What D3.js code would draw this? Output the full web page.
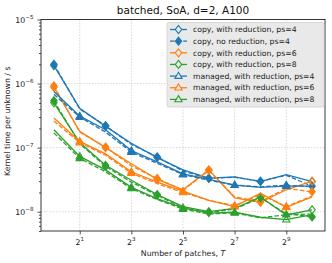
<!DOCTYPE html>
<html>
<head>
<meta charset="utf-8">
<script src="https://cdn.jsdelivr.net/npm/d3@7"></script>
<style>
  body { margin: 0; background: #fff; }
  svg { font-family: "DejaVu Sans", sans-serif; }
</style>
</head>
<body>
<div id="chart"></div>
<script>
// number of patches, T = 2^0 .. 2^10
const patches = [1, 2, 4, 8, 16, 32, 64, 128, 256, 512, 1024];

// kernel time per unknown [s]
const copyRedPs4    = [1.9e-6, 4.1e-7, 2.15e-7, 1.17e-7, 7.0e-8, 4.5e-8, 3.35e-8, 3.5e-8, 2.95e-8, 3.8e-8, 2.95e-8];
const copyNoRedPs4  = [2.0e-6, 4.0e-7, 2.2e-7, 1.12e-7, 7.2e-8, 4.3e-8, 3.3e-8, 3.45e-8, 3.0e-8, 3.7e-8, 2.5e-8];
const copyRedPs6    = [8.8e-7, 1.8e-7, 1.0e-7, 5.6e-8, 3.2e-8, 2.2e-8, 4.5e-8, 1.65e-8, 1.4e-8, 2.2e-8, 3.0e-8];
const copyNoRedPs6  = [9.2e-7, 1.75e-7, 1.02e-7, 5.2e-8, 3.3e-8, 2.15e-8, 4.4e-8, 1.7e-8, 1.45e-8, 2.3e-8, 2.05e-8];
const copyRedPs8    = [5.0e-7, 1.2e-7, 5.3e-8, 3.1e-8, 1.85e-8, 1.2e-8, 1.0e-8, 1.13e-8, 1.7e-8, 8.9e-9, 1.07e-8];
const copyNoRedPs8  = [5.4e-7, 1.15e-7, 5.1e-8, 2.9e-8, 1.8e-8, 1.15e-8, 9.7e-9, 1.1e-8, 1.65e-8, 9.3e-9, 8.3e-9];
const mgdRedPs4     = [7.5e-7, 3.1e-7, 1.9e-7, 9.0e-8, 6.0e-8, 3.9e-8, 3.2e-8, 2.6e-8, 2.4e-8, 2.5e-8, 2.5e-8];
const mgdNoRedPs4   = [6.8e-7, 3.0e-7, 1.75e-7, 8.5e-8, 5.7e-8, 3.8e-8, 3.1e-8, 2.6e-8, 2.45e-8, 2.6e-8, 2.45e-8];
const mgdRedPs6     = [2.9e-7, 1.25e-7, 8.0e-8, 4.2e-8, 2.9e-8, 2.1e-8, 1.5e-8, 1.2e-8, 1.95e-8, 1.17e-8, 1.7e-8];
const mgdNoRedPs6   = [2.6e-7, 1.2e-7, 7.6e-8, 4.0e-8, 2.75e-8, 2.0e-8, 1.5e-8, 1.25e-8, 1.85e-8, 1.2e-8, 1.75e-8];
const mgdRedPs8     = [1.9e-7, 7.3e-8, 4.5e-8, 2.4e-8, 1.6e-8, 1.15e-8, 9.5e-9, 9.8e-9, 8.2e-9, 7.5e-9, 9.0e-9];
const mgdNoRedPs8   = [1.7e-7, 6.8e-8, 4.2e-8, 2.3e-8, 1.55e-8, 1.1e-8, 9.2e-9, 9.6e-9, 8.0e-9, 9.0e-9, 9.2e-9];

const xTickExps = [1, 3, 5, 7, 9];
const yTickExps = [-8, -7, -6, -5];

const blue = "#1f77b4", orange = "#ff7f0e", green = "#2ca02c";

// label null -> not in legend
const series = [
  { label: "copy, with reduction, ps=4", values: copyRedPs4, color: blue, dashed: false, marker: "D", filled: false, start: 0 },
  { label: "copy, no reduction, ps=4", values: copyNoRedPs4, color: blue, dashed: true, marker: "D", filled: true, start: 0 },
  { label: "copy, with reduction, ps=6", values: copyRedPs6, color: orange, dashed: false, marker: "D", filled: false, start: 0 },
  { label: null, values: copyNoRedPs6, color: orange, dashed: true, marker: "D", filled: true, start: 0 },
  { label: "copy, with reduction, ps=8", values: copyRedPs8, color: green, dashed: false, marker: "D", filled: false, start: 0 },
  { label: null, values: copyNoRedPs8, color: green, dashed: true, marker: "D", filled: true, start: 0 },
  { label: "managed, with reduction, ps=4", values: mgdRedPs4, color: blue, dashed: false, marker: "^", filled: false, start: 1 },
  { label: null, values: mgdNoRedPs4, color: blue, dashed: true, marker: "^", filled: true, start: 1 },
  { label: "managed, with reduction, ps=6", values: mgdRedPs6, color: orange, dashed: false, marker: "^", filled: false, start: 1 },
  { label: null, values: mgdNoRedPs6, color: orange, dashed: true, marker: "^", filled: true, start: 1 },
  { label: "managed, with reduction, ps=8", values: mgdRedPs8, color: green, dashed: false, marker: "^", filled: false, start: 1 },
  { label: null, values: mgdNoRedPs8, color: green, dashed: true, marker: "^", filled: true, start: 1 }
];

const width = 332, height = 263;
const plot = { left: 41, right: 325, top: 19.5, bottom: 231 };

const svg = d3.select("#chart").append("svg")
  .attr("width", width)
  .attr("height", height);

const x = d3.scaleLog().base(2)
  .domain([Math.pow(2, -0.5), Math.pow(2, 10.5)])
  .range([plot.left, plot.right]);
const y = d3.scaleLog()
  .domain([5e-9, 1e-5])
  .range([plot.bottom, plot.top]);

// grid
const grid = svg.append("g").attr("stroke", "#d0d0d0").attr("stroke-width", 0.8)
  .attr("stroke-dasharray", "1.6,1.4");
xTickExps.forEach(e => {
  grid.append("line")
    .attr("x1", x(2 ** e)).attr("x2", x(2 ** e))
    .attr("y1", plot.top).attr("y2", plot.bottom);
});
yTickExps.forEach(e => {
  grid.append("line")
    .attr("x1", plot.left).attr("x2", plot.right)
    .attr("y1", y(10 ** e)).attr("y2", y(10 ** e));
});

// markers
function markerPath(type, cx, cy) {
  if (type === "D") {
    const r = 4;
    return `M${cx},${cy - r}L${cx + r * 0.8},${cy}L${cx},${cy + r}L${cx - r * 0.8},${cy}Z`;
  }
  const r = 3.8;
  return `M${cx},${cy - r}L${cx + r * 0.95},${cy + r * 0.6}L${cx - r * 0.95},${cy + r * 0.6}Z`;
}

const line = d3.line()
  .x((d, i) => x(patches[i]))
  .y(d => y(d));

const lines = svg.append("g");
series.forEach(s => {
  lines.append("path")
    .attr("d", line(s.values))
    .attr("fill", "none")
    .attr("stroke", s.color)
    .attr("stroke-width", 1.3)
    .attr("stroke-dasharray", s.dashed ? "4.6,2" : null);
  s.values.forEach((v, i) => {
    if ((i - s.start) % 2 !== 0) return;
    lines.append("path")
      .attr("d", markerPath(s.marker, x(patches[i]), y(v)))
      .attr("fill", s.filled ? s.color : "none")
      .attr("stroke", s.color)
      .attr("stroke-width", 1.1);
  });
});

// axes frame
svg.append("rect")
  .attr("x", plot.left).attr("y", plot.top)
  .attr("width", plot.right - plot.left).attr("height", plot.bottom - plot.top)
  .attr("fill", "none").attr("stroke", "#222").attr("stroke-width", 0.9);

// y axis ticks
const yAxis = svg.append("g").attr("transform", `translate(${plot.left},0)`);
yAxis.call(d3.axisLeft(y).tickValues(yTickExps.map(e => 10 ** e)).tickSize(3.5).tickFormat(""));
const yMinor = [];
[-9, -8, -7, -6].forEach(e => d3.range(2, 10).forEach(m => {
  const v = m * 10 ** e;
  if (v >= 5e-9 && v <= 1e-5) yMinor.push(v);
}));
yAxis.append("g").call(d3.axisLeft(y).tickValues(yMinor).tickSize(2).tickFormat(""));
yAxis.selectAll(".domain").remove();
yAxis.selectAll("line").attr("stroke", "#222").attr("stroke-width", 0.8);

yTickExps.forEach(e => {
  const t = svg.append("text")
    .attr("x", 33.5).attr("y", y(10 ** e) + 3)
    .attr("text-anchor", "end")
    .attr("font-size", 7.8).attr("fill", "#222");
  t.append("tspan").text("10");
  t.append("tspan").attr("dy", -3.9).attr("font-size", 5.6).text("\u2212" + Math.abs(e));
});

// x axis ticks
const xAxis = svg.append("g").attr("transform", `translate(0,${plot.bottom})`);
xAxis.call(d3.axisBottom(x).tickValues(xTickExps.map(e => 2 ** e)).tickSize(3.5).tickFormat(""));
xAxis.selectAll(".domain").remove();
xAxis.selectAll("line").attr("stroke", "#222").attr("stroke-width", 0.8);

xTickExps.forEach(e => {
  const t = svg.append("text")
    .attr("x", x(2 ** e)).attr("y", 245)
    .attr("text-anchor", "middle")
    .attr("font-size", 7.8).attr("fill", "#222");
  t.append("tspan").text("2");
  t.append("tspan").attr("dy", -3.9).attr("font-size", 5.6).text(e);
});

// labels
svg.append("text")
  .attr("x", (plot.left + plot.right) / 2).attr("y", 14)
  .attr("text-anchor", "middle")
  .attr("font-size", 10.5).attr("fill", "#111")
  .text("batched, SoA, d=2, A100");

const xl = svg.append("text")
  .attr("x", (plot.left + plot.right) / 2).attr("y", 256)
  .attr("text-anchor", "middle")
  .attr("font-size", 7.8).attr("fill", "#222");
xl.append("tspan").text("Number of patches, ");
xl.append("tspan").attr("font-style", "italic").text("T");

svg.append("text")
  .attr("transform", `translate(10,${(plot.top + plot.bottom) / 2 - 4}) rotate(-90)`)
  .attr("text-anchor", "middle")
  .attr("font-size", 7.8).attr("fill", "#222")
  .text("Kernel time per unknown / s");

// legend
const legendItems = series.filter(s => s.label);
const legend = svg.append("g");
legend.append("rect")
  .attr("x", 167).attr("y", 22.5)
  .attr("width", 157).attr("height", 84.5)
  .attr("rx", 2)
  .attr("fill", "#e9e9e9").attr("stroke", "#cfcfcf").attr("stroke-width", 0.8);
legendItems.forEach((s, i) => {
  const cy = 29.5 + i * 11.65;
  legend.append("line")
    .attr("x1", 170).attr("x2", 187)
    .attr("y1", cy).attr("y2", cy)
    .attr("stroke", s.color).attr("stroke-width", 1.3)
    .attr("stroke-dasharray", s.dashed ? "4.6,2" : null);
  legend.append("path")
    .attr("d", markerPath(s.marker, 178.5, cy))
    .attr("fill", s.filled ? s.color : "#e9e9e9")
    .attr("stroke", s.color).attr("stroke-width", 1.1);
  legend.append("text")
    .attr("x", 193).attr("y", cy + 2.7)
    .attr("font-size", 7.7).attr("fill", "#222")
    .text(s.label);
});
</script>
</body>
</html>
